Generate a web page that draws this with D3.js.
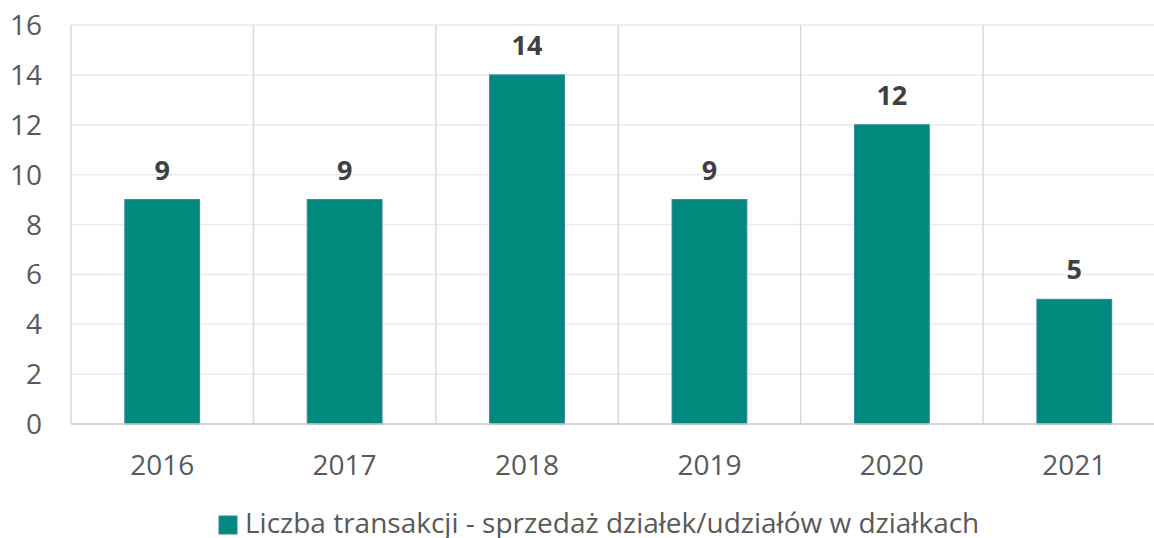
<!DOCTYPE html>
<html lang="pl">
  <head>
    <meta charset="utf-8">
    <title>Liczba transakcji</title>
    <script src="https://cdn.jsdelivr.net/npm/d3@7"></script>
    <style type="text/css">
      body { margin: 0; background: #fff; }
      svg { display: block; font-family: "Open Sans", sans-serif; }
      .grid line { stroke: #ebebeb; stroke-width: 1.5; }
      .sep line { stroke: #d9d9d9; stroke-width: 1.5; }
      .tick-label { fill: #595959; font-size: 28px; }
      .bar-label { fill: #404040; font-size: 27px; font-weight: bold; }
      .legend-text { fill: #595959; font-size: 28px; }
    </style>
  </head>
  <body>
    <svg width="1154" height="538"></svg>
    <script type="text/javascript">
      // data
      var years = ["2016", "2017", "2018", "2019", "2020", "2021"];
      var transactions = [9, 9, 14, 9, 12, 5];
      var yTicks = [0, 2, 4, 6, 8, 10, 12, 14, 16];
      var seriesName = "Liczba transakcji - sprzedaż działek/udziałów w działkach";

      var svg = d3.select("svg");

      // plot runs past the right edge, like the original crop
      var plotLeft = 71, plotRight = 1165.5, plotTop = 25, plotBottom = 424;

      var x = d3.scaleBand()
        .domain(years)
        .range([plotLeft, plotRight])
        .padding(0);

      var y = d3.scaleLinear()
        .domain([0, 16])
        .range([plotBottom, plotTop]);

      var barW = x.bandwidth() * 0.41;

      // horizontal gridlines
      svg.append("g")
        .attr("class", "grid")
        .selectAll("line")
        .data(yTicks.filter(function(d) { return d > 0; }))
        .enter().append("line")
          .attr("x1", plotLeft)
          .attr("x2", plotRight)
          .attr("y1", function(d) { return y(d); })
          .attr("y2", function(d) { return y(d); });

      // vertical category separators
      svg.append("g")
        .attr("class", "sep")
        .selectAll("line")
        .data(years)
        .enter().append("line")
          .attr("x1", function(d) { return x(d); })
          .attr("x2", function(d) { return x(d); })
          .attr("y1", plotTop)
          .attr("y2", plotBottom);

      // bars
      svg.append("g")
        .selectAll("rect")
        .data(years)
        .enter().append("rect")
          .attr("x", function(d) { return x(d) + (x.bandwidth() - barW) / 2; })
          .attr("y", function(d, i) { return y(transactions[i]); })
          .attr("width", barW)
          .attr("height", function(d, i) { return y(0) - y(transactions[i]); })
          .attr("fill", "#00897c")
          .attr("stroke", "#3b82a6")
          .attr("stroke-width", 1);

      // baseline
      svg.append("line")
        .attr("x1", plotLeft)
        .attr("x2", plotRight)
        .attr("y1", y(0))
        .attr("y2", y(0))
        .attr("stroke", "#c8c8c8")
        .attr("stroke-width", 1.5);

      // value labels
      svg.append("g")
        .selectAll("text")
        .data(years)
        .enter().append("text")
          .attr("class", "bar-label")
          .attr("x", function(d) { return x(d) + x.bandwidth() / 2; })
          .attr("y", function(d, i) { return y(transactions[i]) - 20; })
          .attr("text-anchor", "middle")
          .text(function(d, i) { return transactions[i]; });

      // y tick labels
      svg.append("g")
        .selectAll("text")
        .data(yTicks)
        .enter().append("text")
          .attr("class", "tick-label")
          .attr("x", 42)
          .attr("y", function(d) { return y(d); })
          .attr("dy", "0.36em")
          .attr("text-anchor", "end")
          .text(function(d) { return d; });

      // x tick labels
      svg.append("g")
        .selectAll("text")
        .data(years)
        .enter().append("text")
          .attr("class", "tick-label")
          .attr("x", function(d) { return x(d) + x.bandwidth() / 2; })
          .attr("y", 475)
          .attr("text-anchor", "middle")
          .text(function(d) { return d; });

      // legend
      var legend = svg.append("g").attr("transform", "translate(219,516)");
      legend.append("rect")
        .attr("width", 18)
        .attr("height", 18)
        .attr("fill", "#00897c")
        .attr("stroke", "#3b82a6")
        .attr("stroke-width", 1);
      legend.append("text")
        .attr("class", "legend-text")
        .attr("x", 26)
        .attr("y", 17)
        .text(seriesName);
    </script>
  </body>
</html>
